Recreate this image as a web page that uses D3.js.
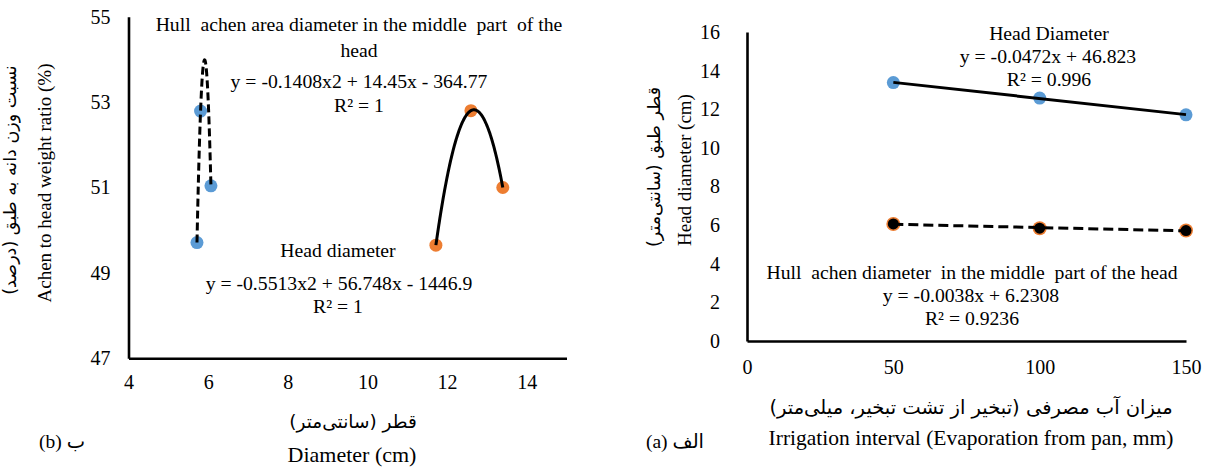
<!DOCTYPE html>
<html>
<head>
<meta charset="utf-8">
<script src="https://cdn.jsdelivr.net/npm/d3@7"></script>
<style>
  html, body { margin: 0; padding: 0; background: #fff; }
  svg { display: block; }
  text { white-space: pre; }
  .lat { font-family: "Liberation Serif", "Times New Roman", serif; fill: #000; }
  .fa { font-family: "DejaVu Sans", "Noto Sans", sans-serif; fill: #000; }
  .mix { font-family: "Liberation Serif", "DejaVu Sans", serif; fill: #000; }
</style>
</head>
<body>
<svg id="chart" width="1210" height="468"></svg>
<script>
// ---------- DATA ----------
// Panel (b): Achen to head weight ratio (%) vs diameter (cm)
const hullDiameterB   = [5.72, 5.81, 6.07];
const hullRatioB      = [49.71, 52.79, 51.04];
const headDiameterB   = [11.72, 12.6, 13.4];
const headRatioB      = [49.65, 52.8, 51.0];
const xTicksB = [4, 6, 8, 10, 12, 14];
const yTicksB = [47, 49, 51, 53, 55];

// Panel (a): diameter (cm) vs irrigation interval (mm)
const irrigation      = [50, 100, 150];
const headDiameterA   = [13.38, 12.58, 11.71];
const hullDiameterA   = [6.06, 5.84, 5.72];
const xTicksA = [0, 50, 100, 150];
const yTicksA = [0, 2, 4, 6, 8, 10, 12, 14, 16];

// Texts
const eqHullB = "y = -0.1408x2 + 14.45x - 364.77";
const eqHeadB = "y = -0.5513x2 + 56.748x - 1446.9";
const r2HullB = "R² = 1";
const r2HeadB = "R² = 1";
const eqHeadA = "y = -0.0472x + 46.823";
const r2HeadA = "R² = 0.996";
const eqHullA = "y = -0.0038x + 6.2308";
const r2HullA = "R² = 0.9236";

// ---------- HELPERS ----------
const BLUE = "#5B9BD5", ORANGE = "#ED7D31";
const svg = d3.select("#chart");

function quadFit(xs, ys) {
  // least squares quadratic (exact for 3 points)
  const n = xs.length;
  let S = [0,0,0,0,0], T = [0,0,0];
  for (let i = 0; i < n; i++) {
    const x = xs[i], y = ys[i];
    for (let k = 0; k < 5; k++) S[k] += Math.pow(x, k);
    for (let k = 0; k < 3; k++) T[k] += y * Math.pow(x, k);
  }
  const M = [[S[0],S[1],S[2],T[0]],[S[1],S[2],S[3],T[1]],[S[2],S[3],S[4],T[2]]];
  for (let i = 0; i < 3; i++) {
    let p = i;
    for (let r = i+1; r < 3; r++) if (Math.abs(M[r][i]) > Math.abs(M[p][i])) p = r;
    [M[i], M[p]] = [M[p], M[i]];
    for (let r = 0; r < 3; r++) if (r !== i) {
      const f = M[r][i] / M[i][i];
      for (let c = i; c < 4; c++) M[r][c] -= f * M[i][c];
    }
  }
  const c0 = M[0][3]/M[0][0], c1 = M[1][3]/M[1][1], c2 = M[2][3]/M[2][2];
  return x => c0 + c1*x + c2*x*x;
}
function linFit(xs, ys) {
  const mx = d3.mean(xs), my = d3.mean(ys);
  let num = 0, den = 0;
  xs.forEach((x, i) => { num += (x-mx)*(ys[i]-my); den += (x-mx)*(x-mx); });
  const b = num/den, a = my - b*mx;
  return x => a + b*x;
}
function styleAxis(g) {
  g.select(".domain").attr("stroke", "#000").attr("stroke-width", 2.6);
  g.selectAll(".tick line").remove();
  g.selectAll("text").attr("class", "lat").style("font-size", "20px");
}
function txt(cls, x, y, s, size, opts = {}) {
  const t = svg.append("text").attr("class", cls).attr("x", x).attr("y", y)
    .attr("xml:space", "preserve")
    .attr("text-anchor", opts.anchor || "middle").style("font-size", size + "px").text(s);
  if (opts.rtl) t.attr("direction", "rtl").style("unicode-bidi", "embed");
  if (opts.rotate) t.attr("transform", `rotate(-90, ${x}, ${y})`);
  return t;
}

// ---------- PANEL (b) ----------
const xB = d3.scaleLinear().domain([4, 15]).range([128.5, 566.5]);
const yB = d3.scaleLinear().domain([47, 55]).range([358.3, 16.7]);

svg.append("g").attr("transform", `translate(0,${yB(47)})`)
  .call(d3.axisBottom(xB).tickValues(xTicksB).tickSize(0).tickSizeOuter(0).tickPadding(17).tickFormat(d3.format("d")))
  .call(styleAxis);
svg.append("g").attr("transform", `translate(${xB(4)},0)`)
  .call(d3.axisLeft(yB).tickValues(yTicksB).tickSize(0).tickSizeOuter(0).tickPadding(18).tickFormat(d3.format("d")))
  .call(styleAxis);

const gB = svg.append("g");
function drawQuad(xs, ys, color, dash) {
  const pts = xs.map((x, i) => [x, ys[i]]);
  gB.selectAll(null).data(pts).enter().append("circle")
    .attr("cx", d => xB(d[0])).attr("cy", d => yB(d[1])).attr("r", 6.5).attr("fill", color);
  const f = quadFit(xs, ys);
  const lo = d3.min(xs), hi = d3.max(xs);
  const samples = d3.range(0, 201).map(i => lo + (hi - lo) * i / 200);
  gB.append("path").datum(samples)
    .attr("d", d3.line().x(x => xB(x)).y(x => yB(f(x))))
    .attr("fill", "none").attr("stroke", "#000").attr("stroke-width", 3)
    .attr("stroke-dasharray", dash || null).attr("stroke-linecap", "butt");
}
drawQuad(hullDiameterB, hullRatioB, BLUE, "8,4");
drawQuad(headDiameterB, headRatioB, ORANGE, null);

txt("lat", 359, 31, "Hull  achen area diameter in the middle  part  of the", 19.7);
txt("lat", 359, 57, "head", 19.7);
txt("lat", 359, 88, eqHullB, 19.7);
txt("lat", 359, 112, r2HullB, 19.7);
txt("lat", 338, 257, "Head diameter", 19.7);
txt("lat", 339, 290, eqHeadB, 19.7);
txt("lat", 338, 313, r2HeadB, 19.7);

txt("fa", 16, 180, "نسبت وزن دانه به طبق (درصد)", 17.5, { rtl: true, rotate: true });
txt("lat", 51, 183, "Achen to head weight ratio (%)", 19, { rotate: true });
txt("fa", 353, 428, "قطر (سانتی‌متر)", 18.5, { rtl: true });
txt("lat", 352, 462, "Diameter (cm)", 22);
txt("mix", 62, 448, "(b) ب", 19.5);

// ---------- PANEL (a) ----------
const xA = d3.scaleLinear().domain([0, 150]).range([747, 1186]);
const yA = d3.scaleLinear().domain([0, 16]).range([341, 32]);

svg.append("g").attr("transform", `translate(0,${yA(0)})`)
  .call(d3.axisBottom(xA).tickValues(xTicksA).tickSize(0).tickSizeOuter(0).tickPadding(19).tickFormat(d3.format("d")))
  .call(styleAxis);
svg.append("g").attr("transform", `translate(${xA(0)},0)`)
  .call(d3.axisLeft(yA).tickValues(yTicksA).tickSize(0).tickSizeOuter(0).tickPadding(27).tickFormat(d3.format("d")))
  .call(styleAxis);

const gA = svg.append("g");
// Head diameter series
gA.selectAll(null).data(irrigation).enter().append("circle")
  .attr("cx", d => xA(d)).attr("cy", (d, i) => yA(headDiameterA[i])).attr("r", 6.5).attr("fill", BLUE);
const fHead = linFit(irrigation, headDiameterA);
gA.append("path").datum(d3.extent(irrigation))
  .attr("d", d3.line().x(x => xA(x)).y(x => yA(fHead(x))))
  .attr("fill", "none").attr("stroke", "#000").attr("stroke-width", 3);
// Hull series
gA.selectAll(null).data(irrigation).enter().append("circle")
  .attr("cx", d => xA(d)).attr("cy", (d, i) => yA(hullDiameterA[i])).attr("r", 7).attr("fill", ORANGE);
const fHull = linFit(irrigation, hullDiameterA);
gA.append("path").datum(d3.extent(irrigation))
  .attr("d", d3.line().x(x => xA(x)).y(x => yA(fHull(x))))
  .attr("fill", "none").attr("stroke", "#000").attr("stroke-width", 3).attr("stroke-dasharray", "10,5");
gA.selectAll(null).data(irrigation).enter().append("circle")
  .attr("cx", d => xA(d)).attr("cy", (d, i) => yA(hullDiameterA[i])).attr("r", 5.5).attr("fill", "#000");

txt("lat", 1049, 40, "Head Diameter", 19.7);
txt("lat", 1048, 63, eqHeadA, 19.7);
txt("lat", 1049, 86, r2HeadA, 19.7);
txt("lat", 972, 279, "Hull  achen diameter  in the middle  part of the head", 19.7);
txt("lat", 971, 302, eqHullA, 19.7);
txt("lat", 972, 325, r2HullA, 19.7);

txt("fa", 660, 167, "قطر طبق (سانتی‌متر)", 17.5, { rtl: true, rotate: true });
txt("lat", 691, 170, "Head diameter (cm)", 19, { rotate: true });
txt("fa", 971, 414, "میزان آب مصرفی (تبخیر از تشت تبخیر، میلی‌متر)", 19.5, { rtl: true });
txt("lat", 971, 445, "Irrigation interval (Evaporation from pan, mm)", 21.5);
txt("mix", 675, 448, "(a) الف", 19.5);
</script>
</body>
</html>
